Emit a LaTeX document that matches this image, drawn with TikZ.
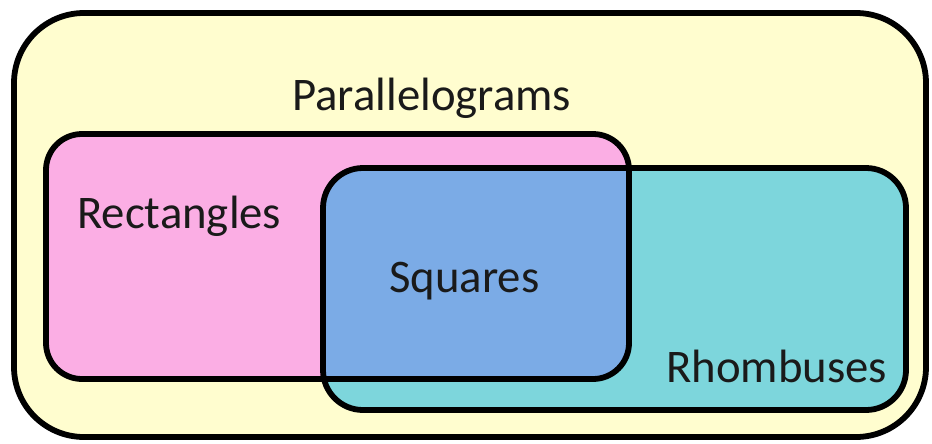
\documentclass[tikz,border=0pt]{standalone}
\usepackage{fontspec}
\setmainfont{Carlito}
\usepackage{tikz}
\usetikzlibrary{positioning}

\definecolor{paracol}{HTML}{FFFDCF}
\definecolor{rectcol}{HTML}{FBAEE4}
\definecolor{rhombcol}{HTML}{7DD6DC}
\definecolor{squarecol}{HTML}{7BABE6}
\definecolor{labelcol}{HTML}{1A1A1A}

\tikzset{
  setline/.style={draw=black, line width=3.3pt},
  setlabel/.style={anchor=base west, inner sep=0pt, text=labelcol, font=\fontsize{26.6}{30}\selectfont}
}

\begin{document}
\begin{tikzpicture}[x=0.02cm, y=-0.02cm]
            \useasboundingbox (0,0) rectangle (932,443);
            % the three sets
            \path[setline, fill=paracol, rounded corners=1.4cm] (14,13) rectangle (926,437);
            \path[fill=rectcol, rounded corners=0.72cm] (46,134) rectangle (629,379);
            \path[fill=rhombcol, rounded corners=0.8cm] (323,168) rectangle (906,410);
            % overlap
            \begin{scope}
              \clip[rounded corners=0.72cm] (46,134) rectangle (629,379);
              \path[fill=squarecol, rounded corners=0.8cm] (323,168) rectangle (906,410);
            \end{scope}
            \path[setline, rounded corners=0.72cm] (46,134) rectangle (629,379);
            \path[setline, rounded corners=0.8cm] (323,168) rectangle (906,410);

            \node[setlabel] (para) at (292,110) {Parallelograms};
            \node[setlabel] (rect) at (77,228) {Rectangles};
            \node[setlabel] (sq) at (389,292) {Squares};
            \node[setlabel] (rhomb) at (666,382) {Rhombuses};
\end{tikzpicture}
\end{document}
